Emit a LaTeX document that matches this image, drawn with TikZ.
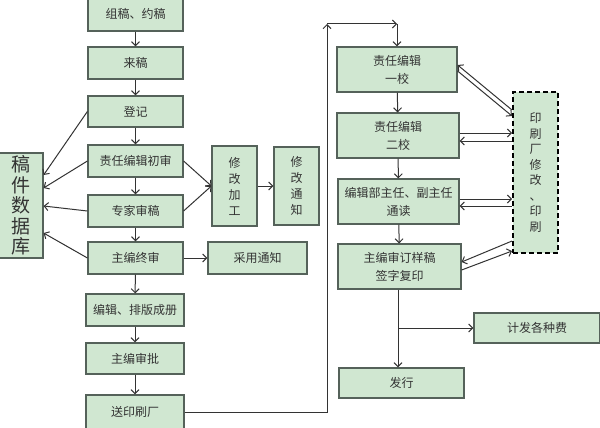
\documentclass[tikz,border=0pt]{standalone}
\usepackage{fontspec}
\setmainfont{Noto Sans CJK SC}
\usepackage{xcolor}
\usetikzlibrary{
    arrows.meta,
    positioning
}
\definecolor{boxgreen}{HTML}{D0E7D1}
\definecolor{boxedge}{HTML}{55625A}
\definecolor{inkgray}{HTML}{333333}
\tikzstyle{stage} = [
    rectangle,
    draw=boxedge,
    line width=1.2pt,
    fill=boxgreen,
    text=inkgray,
    inner sep=0pt,
    align=center,
    font=\fontsize{12}{18}\selectfont
]
\tikzstyle{upright} = [
    stage,
    font=\fontsize{12}{16}\selectfont
]
\tikzstyle{printbox} = [
    stage,
    draw=black,
    line width=2pt,
    dash pattern=on 5pt off 3pt,
    font=\fontsize{12}{15.5}\selectfont
]
\tikzstyle{flow} = [
    -{Straight Barb[length=4pt,width=8pt]},
    line width=1pt,
    draw=inkgray
]

\begin{document}
\begin{tikzpicture}[x=1pt, y=-1pt]
        \useasboundingbox (0,0) rectangle (600,428);

        % Left column
        \node[stage, minimum width=95pt, minimum height=34pt] (invite) at (135.5,14) {组稿、约稿};
        \node[stage, minimum width=95pt, minimum height=32pt] (arrive) at (135.5,63) {来稿};
        \node[stage, minimum width=95pt, minimum height=31pt] (register) at (135.5,111.5) {登记};
        \node[stage, minimum width=95pt, minimum height=32pt] (first) at (135.5,161) {责任编辑初审};
        \node[stage, minimum width=95pt, minimum height=32pt] (expert) at (135.5,211) {专家审稿};
        \node[stage, minimum width=95pt, minimum height=32pt] (final) at (135.5,258) {主编终审};
        \node[stage, minimum width=98pt, minimum height=32pt] (layout) at (135,310) {编辑、排版成册};
        \node[stage, minimum width=98pt, minimum height=31pt] (approve) at (135,358.5) {主编审批};
        \node[stage, minimum width=98pt, minimum height=34pt] (send) at (135,412) {送印刷厂};

        % Database
        \node[stage, minimum width=44pt, minimum height=105pt,
              font=\fontsize{19}{20.5}\selectfont] (database) at (21,205.5) {稿\\件\\数\\据\\库};

        % Revision and notices
        \node[upright, minimum width=45pt, minimum height=80pt] (revise) at (234.5,186) {修\\改\\加\\工};
        \node[upright, minimum width=45pt, minimum height=78pt] (notify) at (296.5,186) {修\\改\\通\\知};
        \node[stage, minimum width=99pt, minimum height=32pt] (accept) at (257.5,258) {采用通知};

        % Right column
        \node[stage, minimum width=120pt, minimum height=45pt] (proof1) at (397,69.5) {责任编辑\\一校};
        \node[stage, minimum width=122pt, minimum height=45pt] (proof2) at (398,135.5) {责任编辑\\二校};
        \node[stage, minimum width=121pt, minimum height=45pt] (readthru) at (398.5,201.5) {编辑部主任、副主任\\通读};
        \node[stage, minimum width=123pt, minimum height=45pt] (sign) at (399.5,266.5) {主编审订样稿\\签字复印};
        \node[stage, minimum width=126pt, minimum height=30pt] (fees) at (537,328) {计发各种费};
        \node[stage, minimum width=125pt, minimum height=30pt] (issue) at (401.5,383) {发行};

        % Printer
        \node[printbox, minimum width=45pt, minimum height=161pt] (printer) at (535.5,172.5) {印\\刷\\厂\\修\\改\\、\\印\\刷};

        % Turning points
        \coordinate (turn) at (327,24);
        \coordinate (top) at (397,24);

        % Arrows
        \draw[flow] (invite) -- (arrive);
        \draw[flow] (arrive) -- (register);
        \draw[flow] (register) -- (first);
        \draw[flow] (first) -- (expert);
        \draw[flow] (expert) -- (final);
        \draw[flow] (final) -- (layout);
        \draw[flow] (layout) -- (approve);
        \draw[flow] (approve) -- (send);

        \draw[flow] (register.west) -- ([yshift=30.5pt]database.east);
        \draw[flow] (first.west) -- ([yshift=17.5pt]database.east);
        \draw[flow] (expert.west) -- ([yshift=-0.5pt]database.east);
        \draw[flow] (final.west) -- ([yshift=-27.5pt]database.east);

        \draw[flow] (first.east) -- (revise.west);
        \draw[flow] (expert.east) -- (revise.west);
        \draw[flow] (revise) -- (notify);
        \draw[flow] (final) -- (accept);

        \draw[flow] (send.east) -| (turn);
        \draw[flow] (turn) -- (top);
        \draw[flow] (top) -- (proof1.north);

        \draw[flow] (proof1) -- (proof2);
        \draw[flow] (proof2) -- (readthru);
        \draw[flow] (readthru) -- (sign);

        \draw[flow] ([yshift=62.5pt]printer.west) -- ([yshift=4.5pt]proof1.east);
        \draw[flow] ([yshift=-1.5pt]proof1.east) -- ([yshift=56.5pt]printer.west);
        \draw[flow] ([yshift=2.5pt]proof2.east) -- ([yshift=39.5pt]printer.west);
        \draw[flow] ([yshift=31.5pt]printer.west) -- ([yshift=-5.5pt]proof2.east);
        \draw[flow] ([yshift=2.5pt]readthru.east) -- ([yshift=-26.5pt]printer.west);
        \draw[flow] ([yshift=-33.5pt]printer.west) -- ([yshift=-4.5pt]readthru.east);
        \draw[flow] ([yshift=-68.5pt]printer.west) -- ([yshift=4.5pt]sign.east);
        \draw[flow] ([yshift=-3.5pt]sign.east) -- ([yshift=-78.5pt]printer.west);

        \draw[flow] ([xshift=-1.5pt]sign.south) -- ([xshift=-1.5pt]sign.south |- issue.north);
        \draw[flow] ([xshift=-1.5pt]sign.south |- fees.west) -- (fees.west);
    \end{tikzpicture}
\end{document}
